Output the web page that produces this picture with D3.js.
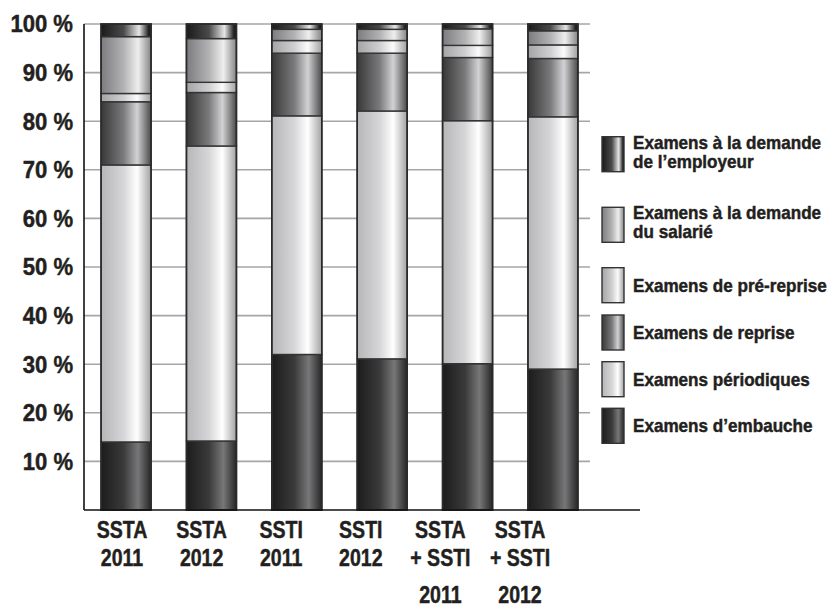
<!DOCTYPE html>
<html><head><meta charset="utf-8">
<script src="https://cdn.jsdelivr.net/npm/d3@7"></script>
<style>
html,body{margin:0;padding:0;background:#fff;}
text{font-family:"Liberation Sans",Arial,Helvetica,sans-serif;font-weight:bold;fill:#231f20;stroke:#231f20;stroke-width:0.45px;}
</style></head>
<body>
<svg id="chart" width="838" height="609"></svg>
<script>
// ---- data ----
const categories = [["SSTA","2011"],["SSTA","2012"],["SSTI","2011"],["SSTI","2012"],["SSTA","+ SSTI","2011"],["SSTA","+ SSTI","2012"]];
const seriesNames = ["Examens d’embauche","Examens périodiques","Examens de reprise","Examens de pré-reprise","Examens à la demande du salarié","Examens à la demande de l’employeur"];
const embauche    = [14.0, 14.2, 32.0, 31.1, 30.1, 29.0];
const periodiques = [57.0, 60.7, 49.1, 51.0, 50.0, 51.9];
const reprise     = [13.0, 11.0, 12.9, 11.9, 13.0, 12.0];
const preReprise  = [1.7, 2.1, 2.6, 2.6, 2.5, 2.8];
const salarie     = [11.7, 9.0, 2.3, 2.3, 3.4, 2.9];
const employeur   = [2.6, 3.0, 1.1, 1.1, 1.0, 1.4];
const yTicks = [10,20,30,40,50,60,70,80,90,100];
const legendLines = [
  ["Examens à la demande","de l’employeur"],
  ["Examens à la demande","du salarié"],
  ["Examens de pré-reprise"],
  ["Examens de reprise"],
  ["Examens périodiques"],
  ["Examens d’embauche"]
];
// legend order (top to bottom) -> series index
const legendSeries = [5,4,3,2,1,0];

const seriesValues = [embauche, periodiques, reprise, preReprise, salarie, employeur];
const table = categories.map((c,i)=>{
  const row = {key:i};
  seriesValues.forEach((s,j)=>row["s"+j]=s[i]);
  return row;
});
const keys = seriesValues.map((s,j)=>"s"+j);
const stacked = d3.stack().keys(keys)(table);

// gradient stops per series [offset, color]
const gradStops = [
  [[0,"#1c1c1c"],[0.45,"#3a3a3a"],[0.74,"#777779"],[1,"#262626"]],
  [[0,"#b6b6b9"],[0.45,"#d6d6d8"],[0.72,"#ffffff"],[1,"#a2a2a4"]],
  [[0,"#383838"],[0.45,"#7a7a7c"],[0.72,"#d2d2d4"],[1,"#4a4a4a"]],
  [[0,"#a4a4a7"],[0.45,"#cfcfd1"],[0.72,"#fbfbfb"],[1,"#a0a0a2"]],
  [[0,"#7c7c80"],[0.45,"#b2b2b4"],[0.74,"#eeeeee"],[1,"#858587"]],
  [[0,"#1a1a1a"],[0.45,"#4a4a4a"],[0.76,"#e6e6e6"],[0.95,"#222222"],[1,"#1a1a1a"]]
];

const svg = d3.select("#chart");
const defs = svg.append("defs");
gradStops.forEach((stops,j)=>{
  const g = defs.append("linearGradient").attr("id","g"+j).attr("x1","0%").attr("x2","100%").attr("y1","0%").attr("y2","0%");
  stops.forEach(s=>g.append("stop").attr("offset",s[0]).attr("stop-color",s[1]));
});

const x = d3.scaleBand().domain(d3.range(categories.length)).range([84,595]).paddingInner(0.4145).paddingOuter(0.2);
const y = d3.scaleLinear().domain([0,100]).range([510,24]);
const xLab = d3.scalePoint().domain(d3.range(categories.length)).range([122,520]);

// gridlines
svg.append("g").selectAll("line").data(yTicks).join("line")
  .attr("x1",84).attr("x2",590).attr("y1",d=>y(d)).attr("y2",d=>y(d))
  .attr("stroke","#a6a6a6").attr("stroke-width",1.6);

// bars
const layer = svg.append("g").selectAll("g").data(stacked).join("g")
  .attr("fill",(d,j)=>`url(#g${j})`);
layer.selectAll("rect").data(d=>d).join("rect")
  .attr("x",d=>x(d.data.key)).attr("width",x.bandwidth())
  .attr("y",d=>y(d[1])).attr("height",d=>y(d[0])-y(d[1]))
  .attr("stroke","#333333").attr("stroke-width",1.4);
// outer outline
svg.append("g").selectAll("rect").data(table).join("rect")
  .attr("x",d=>x(d.key)).attr("width",x.bandwidth())
  .attr("y",y(100)).attr("height",y(0)-y(100))
  .attr("fill","none").attr("stroke","#2a2a2a").attr("stroke-width",1.6);

// axes lines
svg.append("line").attr("x1",84).attr("x2",84).attr("y1",y(100)).attr("y2",y(0)).attr("stroke","#111").attr("stroke-width",1.6);
svg.append("line").attr("x1",84).attr("x2",640).attr("y1",y(0)).attr("y2",y(0)).attr("stroke","#111").attr("stroke-width",1.6);

function stxt(g, str, tx, ty, size, sx, anchor){
  return g.append("text").attr("transform",`translate(${tx},${ty}) scale(${sx},1)`)
    .attr("text-anchor",anchor).style("font-size",size+"px").text(str);
}

// y tick labels
const yl = svg.append("g");
yTicks.forEach(t=>{
  stxt(yl, t+" %", 73, y(t)+8.3, 23, 0.96, "end");
});

// x labels
const xl = svg.append("g");
const lineY = [538, 566, 603];
categories.forEach((lines,i)=>{
  lines.forEach((ln,k)=>{
    stxt(xl, ln, xLab(i), lineY[k], 23, 0.85, "middle");
  });
});

// legend
const legY = [136.7, 207.3, 267.7, 315, 361.7, 408.3];
const lg = svg.append("g");
legendSeries.forEach((sj,i)=>{
  lg.append("rect").attr("x",602).attr("y",legY[i]).attr("width",22).attr("height",35)
    .attr("fill",`url(#g${sj})`).attr("stroke","#333").attr("stroke-width",1.4);
  const lines = legendLines[i];
  if(lines.length===2){
    stxt(lg, lines[0], 633, legY[i]+12, 18, 0.95, "start");
    stxt(lg, lines[1], 633, legY[i]+31, 18, 0.95, "start");
  } else {
    stxt(lg, lines[0], 633, legY[i]+17.5+6.5, 18, 0.95, "start");
  }
});
</script>
</body></html>
